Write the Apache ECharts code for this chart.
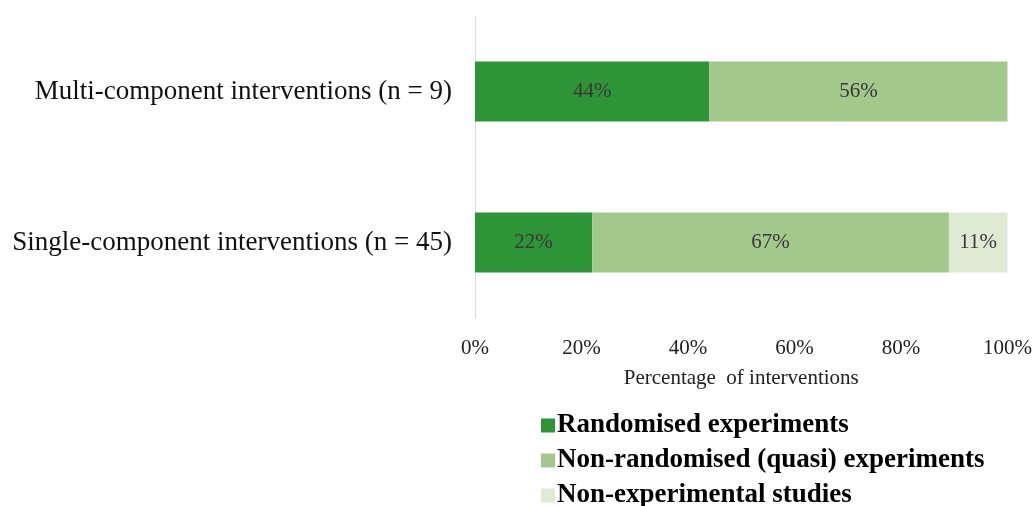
<!DOCTYPE html>
<html>
<head>
<meta charset="utf-8">
<script src="https://cdn.jsdelivr.net/npm/echarts@6/dist/echarts.min.js"></script>
<style>
  html, body { margin: 0; padding: 0; background: #fff; }
  #chart { width: 1035px; height: 506px; }
</style>
</head>
<body>
<div id="chart"></div>
<script>
const categories = ['Multi-component interventions (n = 9)', 'Single-component interventions (n = 45)']
const seriesNames = ['Randomised experiments', 'Non-randomised (quasi) experiments', 'Non-experimental studies']
const randomised = [44, 22]
const nonRandomised = [56, 67]
const nonExperimental = [0, 11]
const xTicks = [0, 20, 40, 60, 80, 100]

const colors = ['#2e9438', '#a3c88b', '#dfead5']
const font = 'Liberation Serif'

const chart = echarts.init(document.getElementById('chart'))

const makeSeries = (name, data, color) => ({
  name: name,
  type: 'bar',
  stack: 'total',
  data: data,
  barWidth: 60,
  itemStyle: { color: color },
  label: {
    show: true,
    position: 'inside',
    fontFamily: font,
    fontSize: 21,
    color: '#383838',
    formatter: p => (p.value > 0 ? p.value + '%' : '')
  }
})

chart.setOption({
  animation: false,
  textStyle: { fontFamily: font },
  grid: { left: 475, right: 25, top: 16, height: 302 },
  legend: {
    orient: 'vertical',
    left: 536,
    top: 407,
    height: 110,
    itemWidth: 14,
    itemHeight: 14,
    itemGap: 8,
    icon: 'rect',
    data: seriesNames,
    textStyle: { fontFamily: font, fontSize: 27, fontWeight: 'bold', color: '#000', padding: [0, 0, 0, -3] }
  },
  xAxis: {
    type: 'value',
    min: xTicks[0],
    max: xTicks[xTicks.length - 1],
    interval: 20,
    axisLine: { show: false },
    axisTick: { show: false },
    splitLine: { show: false },
    axisLabel: { formatter: '{value}%', fontSize: 21, color: '#222', margin: 20 },
    name: 'Percentage  of interventions',
    nameLocation: 'middle',
    nameGap: 50,
    nameTextStyle: { fontSize: 21, color: '#222' }
  },
  yAxis: {
    type: 'category',
    inverse: true,
    data: categories,
    axisLine: { show: true, lineStyle: { color: '#d9d9d9', width: 1 } },
    axisTick: { show: false },
    axisLabel: { fontSize: 27, color: '#111', margin: 23 }
  },
  series: [
    makeSeries(seriesNames[0], randomised, colors[0]),
    makeSeries(seriesNames[1], nonRandomised, colors[1]),
    makeSeries(seriesNames[2], nonExperimental, colors[2])
  ]
})
</script>
</body>
</html>
